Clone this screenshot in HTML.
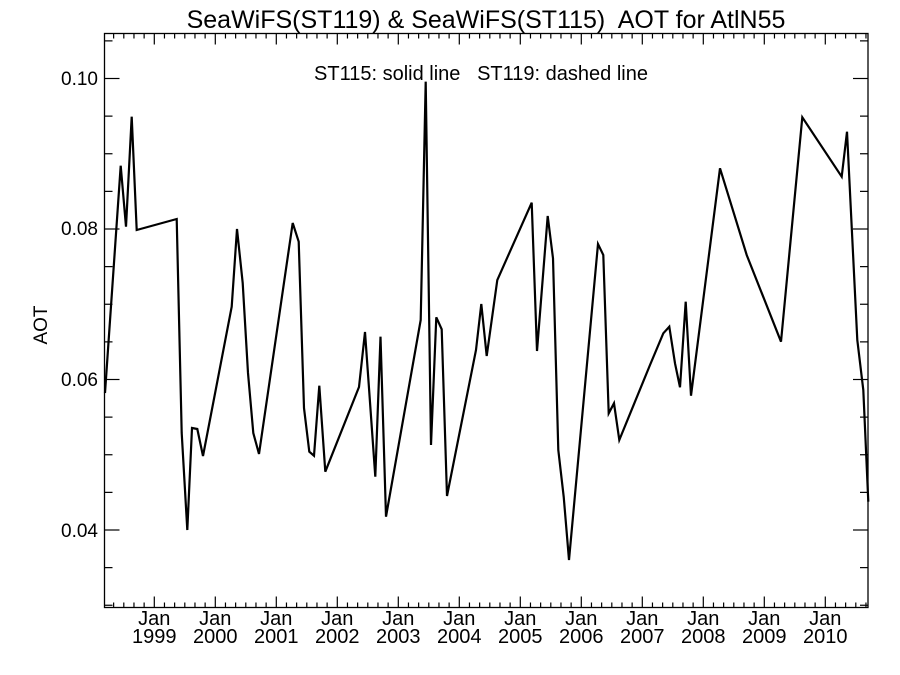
<!DOCTYPE html>
<html><head><meta charset="utf-8"><style>
html,body{margin:0;padding:0;background:#fff;}
svg{display:block;font-family:"Liberation Sans",Arial,sans-serif;}
</style></head><body>
<svg width="900" height="675" viewBox="0 0 900 675" xmlns="http://www.w3.org/2000/svg">
<rect width="900" height="675" fill="#fff"/>
<text x="486" y="28" font-size="25" text-anchor="middle" xml:space="preserve">SeaWiFS(ST119) &amp; SeaWiFS(ST115)  AOT for AtlN55</text>
<text x="481" y="80" font-size="20" text-anchor="middle" xml:space="preserve">ST115: solid line   ST119: dashed line</text>
<text transform="translate(47,325) rotate(-90)" font-size="19" text-anchor="middle">AOT</text>
<rect x="104.5" y="33.5" width="763.5" height="574" fill="none" stroke="#000" stroke-width="1.3"/>
<g stroke="#000" stroke-width="1.2" id="ticks"></g>
<g font-size="19" text-anchor="end">
<text x="98" y="85">0.10</text>
<text x="98" y="235">0.08</text>
<text x="98" y="386">0.06</text>
<text x="98" y="537">0.04</text>
</g>
<g font-size="20" text-anchor="middle" id="xl"></g>
<polyline fill="none" stroke="#000" stroke-width="2.2" stroke-linejoin="miter" points="
105,393 120.7,165.7 126,226.7 131.7,116.7 136.7,230 176.7,219 181.7,433 187.3,530 192,428 197.3,429 203,456
231.7,306.7 237,229 242.7,283 248,373 253.3,433 259,454 292.7,223 298.7,241.7 304,408 309.3,451.7 314,455.7
319.3,385.7 325.3,471.7 359,387 365,332 375.3,476.7 380.5,336.7 386,516.7 420.7,320 425.7,81.7 431,445
436.3,317.3 441.7,329.3 447,496 476,350 481.3,304 486.7,356 497.3,280 531.7,202.7 537,351 547.7,216
553,258.3 558.3,450 563.7,496.7 569,560 598,244 603.3,255 608.7,413.3 614,403.3 619.3,440 650,365
663.3,333.3 669.3,326.7 675,363.3 680,387.3 685.7,301.7 691,395.7 720,168.3 746.7,255 781,341.7
802.3,117.3 841.7,176.7 847,131.7 857.3,340 863.3,390 868.3,501.7"/>
<script>
var ns="http://www.w3.org/2000/svg",g=document.getElementById("ticks"),xl=document.getElementById("xl");
function L(x1,y1,x2,y2){var l=document.createElementNS(ns,"line");l.setAttribute("x1",x1);l.setAttribute("y1",y1);l.setAttribute("x2",x2);l.setAttribute("y2",y2);g.appendChild(l);}
for(var i=-6;i<=72;i++){var x=154.3+i*61/6;if(x<105||x>867.5)continue;var maj=(i%6==0);var h=maj?11:5;
L(x,607.5,x,607.5-h);L(x,33.5,x,33.5+h);
if(maj){var yr=1999+i/6;var t=document.createElementNS(ns,"text");t.setAttribute("x",x);t.setAttribute("y",625);t.textContent="Jan";xl.appendChild(t);
var t2=document.createElementNS(ns,"text");t2.setAttribute("x",x);t2.setAttribute("y",643);t2.textContent=yr;xl.appendChild(t2);}}
for(var k=0;k<=15;k++){var v=0.03+k*0.005;var y=530-(v-0.04)/0.02*150.5;if(y>607||y<34)continue;var maj=(k%4==2);var w=maj?15:8;
L(104.5,y,104.5+w,y);L(868,y,868-w,y);}
</script>
</svg>
</body></html>
